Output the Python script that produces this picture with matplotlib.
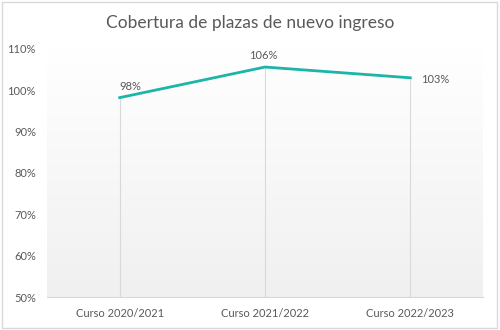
import numpy as np
import matplotlib.pyplot as plt
from matplotlib.ticker import FuncFormatter
from matplotlib.colors import LinearSegmentedColormap

plt.rcParams['font.family'] = ['Lato', 'DejaVu Sans']

cursos = ["Curso 2020/2021", "Curso 2021/2022", "Curso 2022/2023"]
cobertura = [98.2, 105.6, 103.0]
y_ticks = [50, 60, 70, 80, 90, 100, 110]

text_grey = "#595959"
line_col = "#1DB5A8"

fig = plt.figure(figsize=(5, 3.3), dpi=100)
ax = fig.add_axes([0.094, 0.10, 0.872, 0.752])

x = np.arange(len(cursos))
ax.set_xlim(-0.5, len(cursos) - 0.5)
ax.set_ylim(50, 110)

# subtle vertical gradient behind the plot
grad = np.linspace(0, 1, 256).reshape(-1, 1)
cmap = LinearSegmentedColormap.from_list("bg", ["#f0f0f0", "#ffffff"])
ax.imshow(grad, extent=[-0.5, len(cursos) - 0.5, 50, 110], origin="lower",
          aspect="auto", cmap=cmap, zorder=0)

# drop lines
ax.vlines(x, 50, cobertura, colors="#d9d9d9", linewidth=0.8, zorder=1)
ax.plot(x, cobertura, color=line_col, linewidth=2.0, zorder=3)

offsets = [(0, 4, "left"), (-1, 4, "center"), (8, -1, "left")]
for xi, v, (dx, dy, ha) in zip(x, cobertura, offsets):
    va = "bottom" if dy > 0 else "center"
    ax.annotate(f"{v:.0f}%", (xi, v), xytext=(dx, dy), textcoords="offset points",
                ha=ha, va=va, fontsize=8, color=text_grey)

ax.set_xticks(x)
ax.set_xticklabels(cursos)
ax.set_yticks(y_ticks)
ax.yaxis.set_major_formatter(FuncFormatter(lambda v, p: f"{v:.0f}%"))
ax.tick_params(axis="both", length=0, labelsize=8, labelcolor=text_grey)
ax.tick_params(axis="x", pad=8)
ax.tick_params(axis="y", pad=8)

for s in ["top", "right", "left"]:
    ax.spines[s].set_visible(False)
ax.spines["bottom"].set_color("#d9d9d9")
ax.spines["bottom"].set_linewidth(0.8)

fig.suptitle("Cobertura de plazas de nuevo ingreso", y=0.955, fontsize=12.5, color=text_grey)

# chart border
fig.add_artist(plt.Rectangle((0.004, 0.006), 0.99, 0.988, transform=fig.transFigure,
                             fill=False, edgecolor="#d9d9d9", linewidth=1))

fig.savefig("out.png", dpi=100)
